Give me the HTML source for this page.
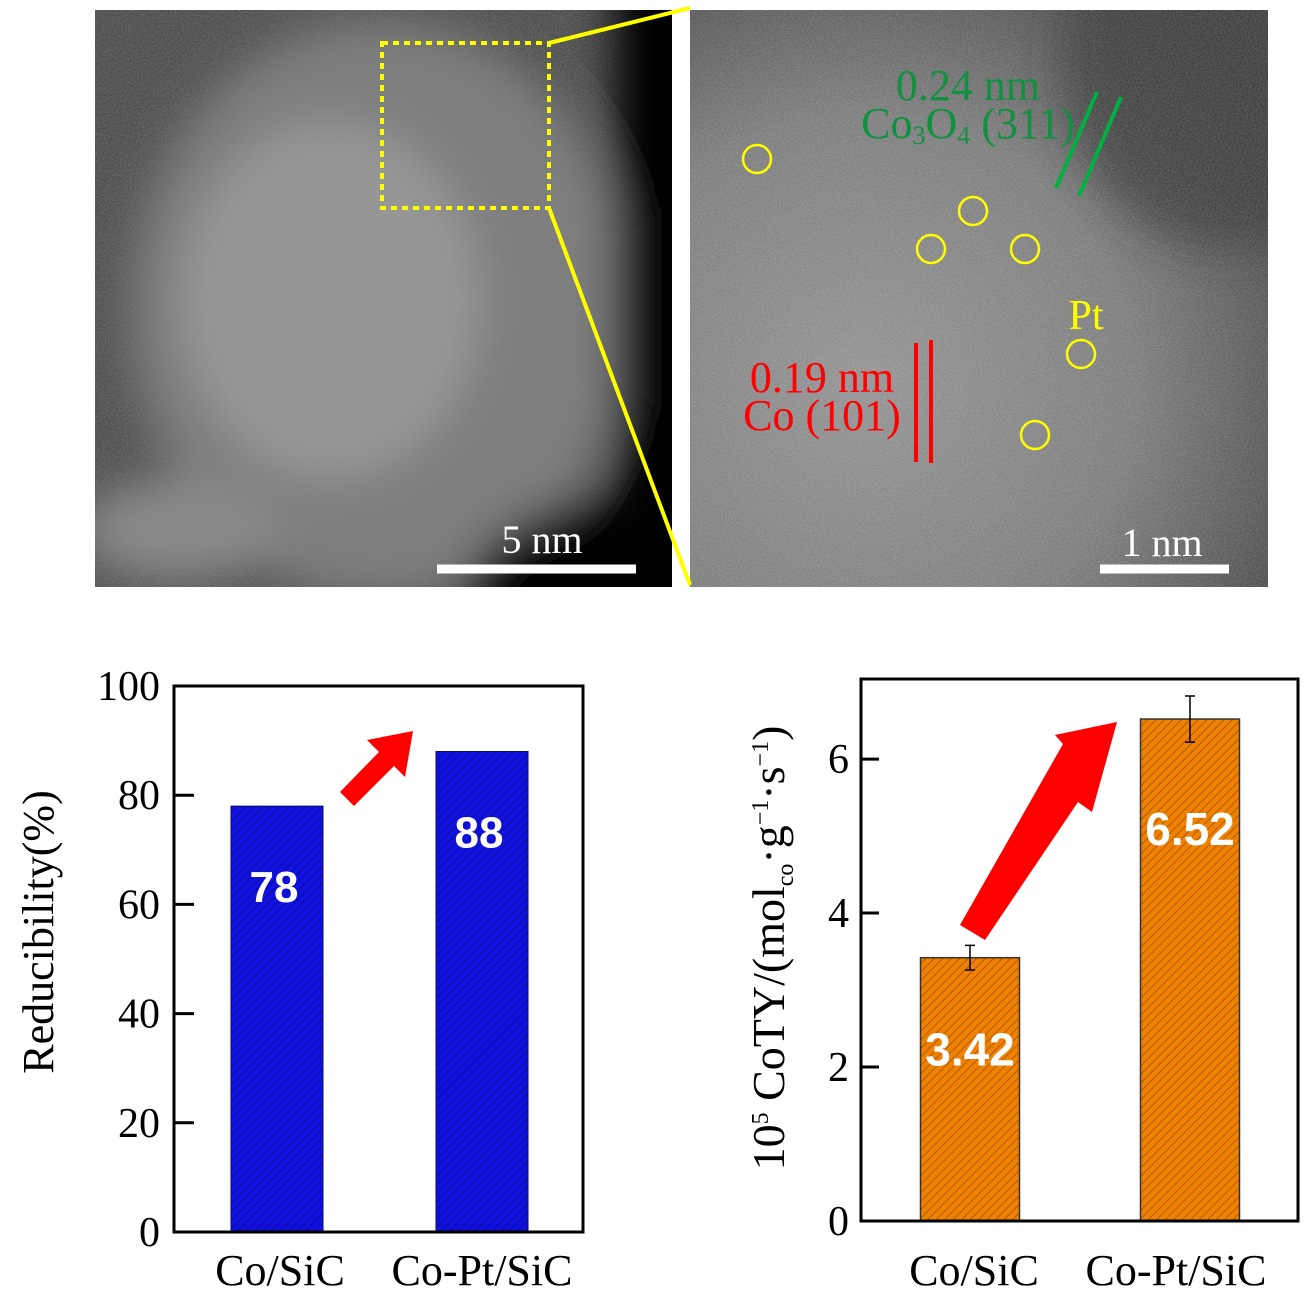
<!DOCTYPE html>
<html><head><meta charset="utf-8"><style>
html,body{margin:0;padding:0;background:#fff;}
svg{display:block;}
text{font-family:"Liberation Serif",serif;}
</style></head><body>
<svg id="fig" width="1309" height="1305" viewBox="0 0 1309 1305" xmlns="http://www.w3.org/2000/svg">
<defs>
<radialGradient id="gR" cx="0.3" cy="0.65" r="0.85">
<stop offset="0" stop-color="#8c8c8c"/><stop offset="0.55" stop-color="#747474"/><stop offset="1" stop-color="#383838"/></radialGradient>
<filter id="blur" filterUnits="userSpaceOnUse" x="0" y="-100" width="1400" height="800"><feGaussianBlur stdDeviation="22"/></filter>
<filter id="noise" x="0" y="0" width="100%" height="100%"><feTurbulence type="fractalNoise" baseFrequency="0.6" numOctaves="2" seed="3"/><feColorMatrix type="matrix" values="0 0 0 0 1 0 0 0 0 1 0 0 0 0 1 0 0 0 0.25 0"/></filter>
<pattern id="hB" width="6" height="6" patternUnits="userSpaceOnUse" patternTransform="rotate(45)"><rect width="6" height="6" fill="#1010e0"/><line x1="0" y1="0" x2="0" y2="6" stroke="#0a0a80" stroke-width="1.5"/></pattern>
<pattern id="hO" width="6" height="6" patternUnits="userSpaceOnUse" patternTransform="rotate(45)"><rect width="6" height="6" fill="#f08000"/><line x1="0" y1="0" x2="0" y2="6" stroke="#8a4a00" stroke-width="1.3"/></pattern>
<clipPath id="cL"><rect x="95" y="10" width="577" height="577"/></clipPath>
<clipPath id="cR"><rect x="690" y="10" width="578" height="577"/></clipPath>
</defs>

<g clip-path="url(#cL)">
<rect x="95" y="10" width="577" height="577" fill="#404040"/>
<rect x="95" y="10" width="577" height="577" filter="url(#noise)"/>
<g filter="url(#blur)">
<ellipse cx="380" cy="310" rx="250" ry="290" fill="#7e7e7e"/>
<ellipse cx="330" cy="300" rx="150" ry="180" fill="#969696"/>
<ellipse cx="180" cy="530" rx="100" ry="50" fill="#8a8a8a"/>
<rect x="615" y="-40" width="120" height="680" fill="#020202"/>
<ellipse cx="660" cy="610" rx="200" ry="120" fill="#020202"/>
</g>
</g>
<rect x="382" y="43" width="167" height="165" fill="none" stroke="#ffff00" stroke-width="4" stroke-dasharray="6,5"/>
<line x1="437" y1="569" x2="636" y2="569" stroke="#fff" stroke-width="9"/>
<text x="542" y="553" font-size="40" fill="#fff" text-anchor="middle">5 nm</text>

<g clip-path="url(#cR)">
<rect x="690" y="10" width="578" height="577" fill="url(#gR)"/>
<g filter="url(#blur)"><ellipse cx="1230" cy="60" rx="170" ry="190" fill="#2e2e2e" opacity="0.8"/></g>
<rect x="690" y="10" width="578" height="577" filter="url(#noise)"/>
</g>
<line x1="549" y1="43" x2="690" y2="8" stroke="#ffff00" stroke-width="4"/>
<line x1="549" y1="208" x2="690" y2="585" stroke="#ffff00" stroke-width="4"/>
<g fill="none" stroke="#ffff00" stroke-width="2.5">
<circle cx="757" cy="159" r="14"/><circle cx="973" cy="211" r="14"/><circle cx="931" cy="249" r="14"/><circle cx="1025" cy="249" r="14"/><circle cx="1081" cy="354" r="14"/><circle cx="1035" cy="435" r="14"/>
</g>
<text x="1086" y="329" font-size="42" fill="#ffff00" text-anchor="middle">Pt</text>
<text x="968" y="100" font-size="44" fill="#109040" text-anchor="middle">0.24 nm</text>
<text x="968" y="138" font-size="44" fill="#109040" text-anchor="middle">Co<tspan font-size="26" dy="6">3</tspan><tspan dy="-6">O</tspan><tspan font-size="26" dy="6">4</tspan><tspan dy="-6"> (311)</tspan></text>
<line x1="1097" y1="92" x2="1056" y2="188" stroke="#00b040" stroke-width="4"/>
<line x1="1121" y1="97" x2="1079" y2="196" stroke="#00b040" stroke-width="4"/>
<text x="822" y="392" font-size="44" fill="#ff0000" text-anchor="middle">0.19 nm</text>
<text x="822" y="430" font-size="44" fill="#ff0000" text-anchor="middle">Co (101)</text>
<line x1="916" y1="343" x2="916" y2="462" stroke="#ff0000" stroke-width="4"/>
<line x1="931" y1="340" x2="931" y2="463" stroke="#ff0000" stroke-width="4"/>
<line x1="1100" y1="569" x2="1229" y2="569" stroke="#fff" stroke-width="9"/>
<text x="1162" y="556" font-size="40" fill="#fff" text-anchor="middle">1 nm</text>

<g id="chartL"></g>
<g id="chartR"></g>
</svg>
<script>
const redCats = ["Co/SiC", "Co-Pt/SiC"];
const redVals = [78, 88];
const redTicks = [0, 20, 40, 60, 80, 100];
const cotyCats = ["Co/SiC", "Co-Pt/SiC"];
const cotyVals = [3.42, 6.52];
const cotyErr = [0.16, 0.3];
const cotyTicks = [0, 2, 4, 6];

const NS = "http://www.w3.org/2000/svg";
function mk(parent, tag, attrs, txt){const e=document.createElementNS(NS,tag);for(const k in attrs)e.setAttribute(k,attrs[k]);if(txt!==undefined)e.textContent=txt;parent.appendChild(e);return e;}

(function(){
const g=document.getElementById('chartL');
const L=174,R=583,T=686,B=1232,ymax=100;
const y=v=>B-(v/ymax)*(B-T);
const cx=[277,482], bw=92;
redCats.forEach((c,i)=>{
  const r=mk(g,'rect',{x:cx[i]-bw/2,y:y(redVals[i]),width:bw,height:B-y(redVals[i]),fill:'url(#hB)',stroke:'#0a0a70','stroke-width':1});
  
  
  const t=mk(g,'text',{x:cx[i]-3,y:y(redVals[i])+96,'font-size':44,'font-weight':'bold',fill:'#fff','text-anchor':'middle',style:'font-family:"Liberation Sans",sans-serif'},String(redVals[i]));
  
  
  const xl=mk(g,'text',{x:cx[i]+(i?0:3),y:1285,'font-size':44,'text-anchor':'middle'},c);
  
  
});
redTicks.forEach(v=>{
  mk(g,'line',{x1:L,x2:L+20,y1:y(v),y2:y(v),stroke:'#000','stroke-width':3});
  const t=mk(g,'text',{x:160,y:y(v)+14,'font-size':42,'text-anchor':'end'},String(v));
  
  
});
const ax=mk(g,'rect',{x:L,y:T,width:R-L,height:B-T,fill:'none',stroke:'#000','stroke-width':3});


const yt=mk(g,'text',{x:0,y:0,'font-size':44,'text-anchor':'middle',transform:'translate(53,932) rotate(-90)'},'Reducibility(%)');


const ar=mk(g,'polygon',{points:'340,792 354,806 394,766 405,777 413,731 367,740 379,752',fill:'#ff0000'});


})();

(function(){
const g=document.getElementById('chartR');
const L=861,R=1298,T=679,B=1221,ymax=7.04;
const y=v=>B-(v/ymax)*(B-T);
const cx=[970,1190], bw=99;
cotyCats.forEach((c,i)=>{
  const r=mk(g,'rect',{x:cx[i]-bw/2,y:y(cotyVals[i]),width:bw,height:B-y(cotyVals[i]),fill:'url(#hO)',stroke:'#333','stroke-width':1.5});
  
  
  const e=mk(g,'path',{d:`M${cx[i]-5},${y(cotyVals[i]+cotyErr[i])}h10M${cx[i]},${y(cotyVals[i]+cotyErr[i])}V${y(cotyVals[i]-cotyErr[i])}M${cx[i]-5},${y(cotyVals[i]-cotyErr[i])}h10`,stroke:'#000','stroke-width':1.5,fill:'none'});
  
  
  const t=mk(g,'text',{x:cx[i],y:i===0?y(cotyVals[i])+108:y(cotyVals[i])+126,'font-size':46,'font-weight':'bold',fill:'#fff','text-anchor':'middle',style:'font-family:"Liberation Sans",sans-serif'},cotyVals[i].toFixed(2));
  
  
  const xl=mk(g,'text',{x:cx[i]+(i?-14:4),y:1285,'font-size':44,'text-anchor':'middle'},c);
  
  
});
cotyTicks.forEach(v=>{
  mk(g,'line',{x1:L,x2:L+18,y1:y(v),y2:y(v),stroke:'#000','stroke-width':3});
  const t=mk(g,'text',{x:849,y:y(v)+14,'font-size':42,'text-anchor':'end'},String(v));
  
  
});
const ax=mk(g,'rect',{x:L,y:T,width:R-L,height:B-T,fill:'none',stroke:'#000','stroke-width':3});


const yt=mk(g,'text',{x:0,y:0,'font-size':46,'text-anchor':'middle',transform:'translate(784,948) rotate(-90)'});


yt.innerHTML='10<tspan font-size="24" dy="-16">5</tspan><tspan dy="16"> CoTY/(mol</tspan><tspan font-size="24" dy="9">co</tspan><tspan dy="-9">·g</tspan><tspan font-size="24" dy="-16">−1</tspan><tspan dy="16">·s</tspan><tspan font-size="24" dy="-16">−1</tspan><tspan dy="16">)</tspan>';
const ar=mk(g,'polygon',{points:'960,925 985,940 1078,802 1092,812 1117,722 1055,735 1063,744',fill:'#ff0000'});


})();
</script>
</body></html>
